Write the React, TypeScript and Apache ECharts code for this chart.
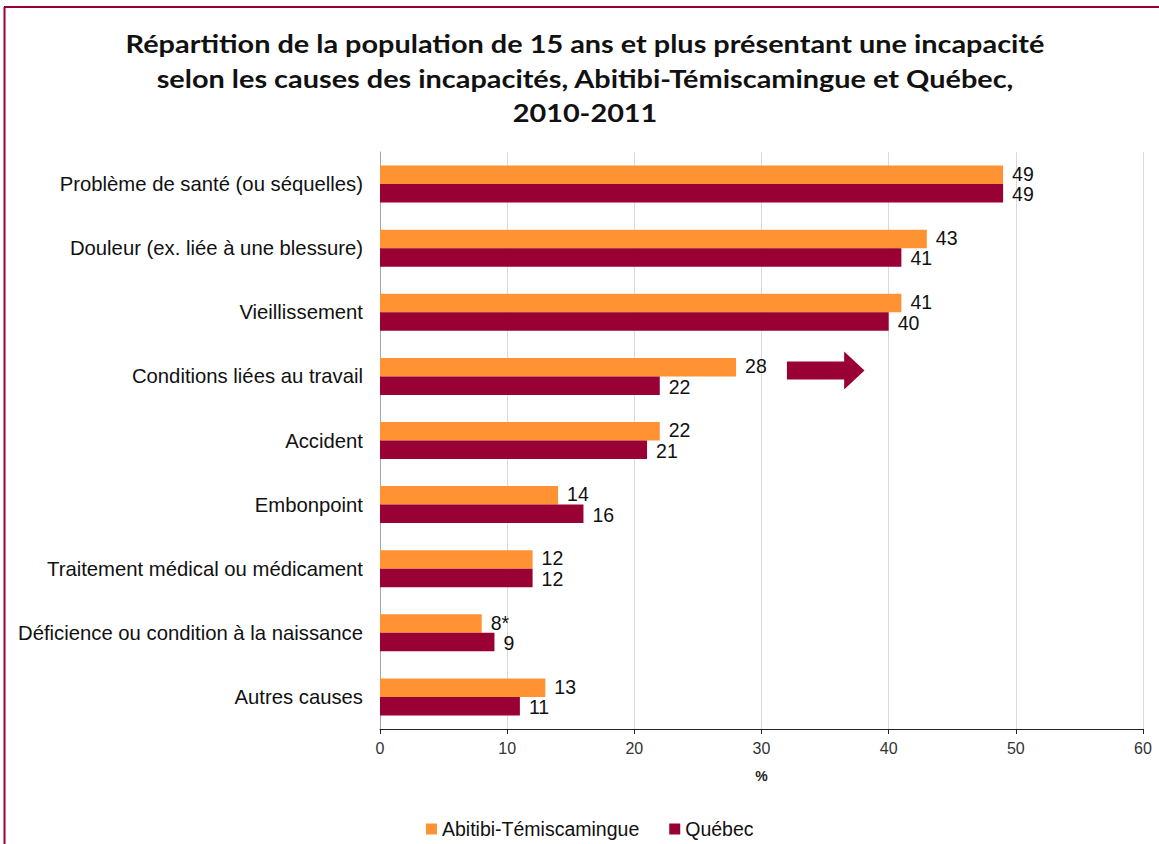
import React, { useEffect, useRef } from "react";
import * as echarts from "echarts";

const categories = [
  "Problème de santé (ou séquelles)",
  "Douleur (ex. liée à une blessure)",
  "Vieillissement",
  "Conditions liées au travail",
  "Accident",
  "Embonpoint",
  "Traitement médical ou médicament",
  "Déficience ou condition à la naissance",
  "Autres causes",
];
const abitibiValues = [49, 43, 41, 28, 22, 14, 12, 8, 13];
const abitibiLabels = ["49", "43", "41", "28", "22", "14", "12", "8*", "13"];
const quebecValues = [49, 41, 40, 22, 21, 16, 12, 9, 11];
const seriesNames = ["Abitibi-Témiscamingue", "Québec"];
const titleLines = [
  "Répartition de la population de 15 ans et plus présentant une incapacité",
  "selon les causes des incapacités, Abitibi-Témiscamingue et Québec,",
  "2010-2011",
];
const xTicks = { min: 0, max: 60, interval: 10 };

const ORANGE = "#ff9233";
const RED = "#990033";

export default function App() {
  const ref = useRef<HTMLDivElement>(null);
  useEffect(() => {
    if (!ref.current) return;
    const chart = echarts.init(ref.current, undefined, { renderer: "svg" });
    const font = "'Liberation Sans', Arial, sans-serif";
    chart.setOption({
      animation: false,
      backgroundColor: "#ffffff",
      grid: { left: 380, right: 16, top: 152, bottom: 115, containLabel: false },
      legend: {
        data: seriesNames,
        left: 421,
        top: 814,
        itemWidth: 11,
        itemHeight: 11,
        itemGap: 30,
        icon: "rect",
        textStyle: { fontFamily: font, fontSize: 19.5, color: "#111" },
      },
      xAxis: {
        type: "value",
        min: xTicks.min,
        max: xTicks.max,
        interval: xTicks.interval,
        name: "%",
        nameLocation: "middle",
        nameGap: 40,
        nameTextStyle: { fontFamily: font, fontSize: 14, fontWeight: "bold", color: "#222" },
        axisLine: { show: true, lineStyle: { color: "#222", width: 1 } },
        axisTick: { show: true, length: 5, lineStyle: { color: "#222" } },
        axisLabel: { fontFamily: font, fontSize: 16, color: "#333", margin: 11 },
        splitLine: { show: true, lineStyle: { color: "#d9d9d9", width: 1 } },
      },
      yAxis: {
        type: "category",
        data: categories,
        inverse: true,
        axisLine: { show: true, lineStyle: { color: "#a6a6a6", width: 1 } },
        axisTick: { show: false },
        axisLabel: { fontFamily: font, fontSize: 20.3, color: "#111", margin: 17 },
      },
      series: [
        {
          name: seriesNames[0],
          type: "bar",
          data: abitibiValues,
          barWidth: 18.5,
          barGap: "0%",
          itemStyle: { color: ORANGE },
          label: {
            show: true,
            position: "right",
            distance: 9,
            offset: [0, -1],
            fontFamily: font,
            fontSize: 19.5,
            lineHeight: 17,
            color: "#111",
            formatter: (p: any) => abitibiLabels[p.dataIndex],
          },
        },
        {
          name: seriesNames[1],
          type: "bar",
          data: quebecValues,
          barWidth: 18.5,
          barGap: "0%",
          itemStyle: { color: RED },
          label: {
            show: true,
            position: "right",
            distance: 9,
            offset: [0, 1],
            fontFamily: font,
            fontSize: 19.5,
            lineHeight: 17,
            color: "#111",
          },
        },
      ],
    });

    const p0 = chart.convertToPixel({ gridIndex: 0 }, [32, 3]) as number[];
    const p1 = chart.convertToPixel({ gridIndex: 0 }, [36.5, 3]) as number[];
    const p2 = chart.convertToPixel({ gridIndex: 0 }, [38.1, 3]) as number[];
    const cy = p0[1] - 6;
    chart.setOption({
      graphic: [
        ...titleLines.map((t, i) => ({
          type: "text",
          x: 585,
          y: 43.5 + i * 34.5,
          scaleX: 1.155,
          style: {
            text: t,
            textAlign: "center",
            textVerticalAlign: "middle",
            fontFamily: "Lato, 'Open Sans', sans-serif",
            fontWeight: "bold",
            fontSize: 25,
            fill: "#111",
          },
        })),
        {
          type: "polygon",
          shape: {
            points: [
              [p0[0], cy - 9],
              [p1[0], cy - 9],
              [p1[0], cy - 19],
              [p2[0], cy],
              [p1[0], cy + 19],
              [p1[0], cy + 9],
              [p0[0], cy + 9],
            ],
          },
          style: { fill: RED },
        },
        {
          type: "line",
          shape: { x1: 4.5, y1: 7, x2: 4.5, y2: 844 },
          style: { stroke: "#9b0033", lineWidth: 2 },
        },
        {
          type: "line",
          shape: { x1: 4, y1: 7, x2: 1159, y2: 7 },
          style: { stroke: "#9b0033", lineWidth: 2 },
        },
      ],
    });
    return () => chart.dispose();
  }, []);
  return (
    <div
      ref={ref}
      style={{ position: "absolute", left: 0, top: 0, width: 1159, height: 844 }}
    />
  );
}
